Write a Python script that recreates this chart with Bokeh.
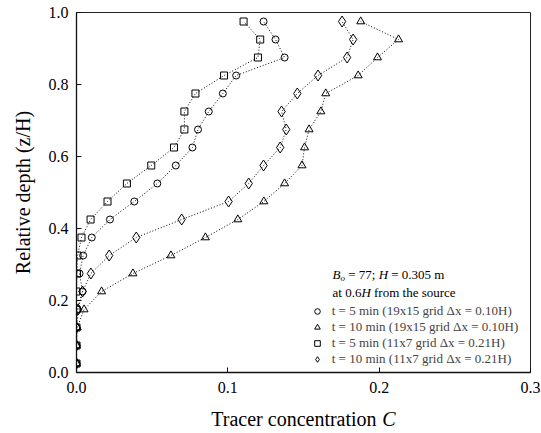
from bokeh.plotting import figure
from bokeh.layouts import column
from bokeh.models import Range1d, FixedTicker, PrintfTickFormatter, Legend, LegendItem, Label
from bokeh.embed import file_html
from bokeh.resources import INLINE

# ---------------- data ----------------
depth = [0.025, 0.075, 0.125, 0.175, 0.225, 0.275, 0.325, 0.375, 0.425, 0.475,
         0.525, 0.575, 0.625, 0.675, 0.725, 0.775, 0.825, 0.875, 0.925, 0.975]

c_t5_fine = [0.0, 0.0, 0.0, 0.0005, 0.004, 0.002, 0.0044, 0.0101, 0.0221, 0.0382,
             0.0534, 0.0656, 0.0766, 0.0803, 0.0874, 0.0967, 0.1055, 0.1375, 0.1315, 0.1236]

c_t10_fine = [0.0, 0.0, 0.0005, 0.005, 0.0166, 0.0373, 0.0624, 0.0852, 0.1066, 0.1238,
              0.1375, 0.1490, 0.1507, 0.1537, 0.1615, 0.1647, 0.1861, 0.1989, 0.2128, 0.1878]

c_t5_coarse = [0.0, 0.0, 0.0, 0.0, 0.0, 0.0003, 0.0007, 0.0033, 0.0093, 0.0205,
               0.0333, 0.0494, 0.0644, 0.0713, 0.0713, 0.0786, 0.0975, 0.1199, 0.1214, 0.1104]

c_t10_coarse = [0.0, 0.0, 0.0, 0.001, 0.004, 0.0095, 0.0216, 0.0395, 0.0695, 0.1005,
                0.1138, 0.1236, 0.1346, 0.1386, 0.1355, 0.1459, 0.1596, 0.1788, 0.1828, 0.1755]

series_labels = ["t = 5 min (19x15 grid \u0394x = 0.10H)",
                 "t = 10 min (19x15 grid \u0394x = 0.10H)",
                 "t = 5 min (11x7 grid \u0394x = 0.21H)",
                 "t = 10 min (11x7 grid \u0394x = 0.21H)"]

x_ticks = [0.0, 0.1, 0.2, 0.3]
y_ticks = [0.0, 0.2, 0.4, 0.6, 0.8, 1.0]

x_title = "Tracer concentration "
x_title_var = "C"
y_title = "Relative depth (z/H)"

FONT = "Liberation Serif"
LEFT, RIGHT = 76, 11

# ---------------- main plot ----------------
p = figure(width=541, height=402, output_backend="svg", toolbar_location=None,
           x_range=Range1d(0, 0.3), y_range=Range1d(0, 1),
           min_border_left=LEFT, min_border_right=RIGHT, min_border_top=12, min_border_bottom=30)

p.grid.visible = False
p.outline_line_color = "#222222"
p.outline_line_width = 1
p.background_fill_color = "white"
p.border_fill_color = "white"

xax = p.xaxis[0]
yax = p.yaxis[0]
xax.ticker = FixedTicker(ticks=x_ticks)
yax.ticker = FixedTicker(ticks=y_ticks)
xax.formatter = PrintfTickFormatter(format="%.1f")
yax.formatter = PrintfTickFormatter(format="%.1f")
for ax in (xax, yax):
    ax.major_tick_in = 5
    ax.major_tick_out = 0
    ax.minor_tick_in = 0
    ax.minor_tick_out = 0
    ax.axis_line_color = "#111111"
    ax.axis_line_width = 1.3
    ax.major_tick_line_color = "#111111"
    ax.major_label_text_font = FONT
    ax.major_label_text_font_size = "16px"
    ax.major_label_text_font_style = "normal"
    ax.major_label_text_color = "black"
xax.major_label_standoff = 9
yax.major_label_standoff = 8

yax.axis_label = y_title
yax.axis_label_text_font = FONT
yax.axis_label_text_font_size = "20px"
yax.axis_label_text_font_style = "normal"
yax.axis_label_text_color = "black"
yax.axis_label_standoff = 12

specs = [
    (c_t5_fine, "circle", 7),
    (c_t10_fine, "triangle", 8),
    (c_t5_coarse, "square", 7),
    (c_t10_coarse, "diamond", 11),
]
items = []
for (vals, marker, size), lab in zip(specs, series_labels):
    p.line(vals, depth, line_color="black", line_width=1, line_dash="1 2")
    r = p.scatter(vals, depth, marker=marker, size=size, line_color="black",
                  line_width=1, fill_color=None)
    items.append(LegendItem(label=lab, renderers=[r]))

legend = Legend(items=items, location=(233.7, 5.3), padding=0, spacing=0, margin=0,
                glyph_width=14, glyph_height=16, label_height=16, label_standoff=8,
                label_text_font=FONT, label_text_font_size="13px",
                border_line_color=None, background_fill_alpha=0)
p.add_layout(legend)

# --- rich text helper (widths in em, Times metrics); left-aligned pieces ---
W = {'T': .611, 'r': .333, 'a': .444, 'c': .444, 'e': .444, ' ': .25, 'o': .5, 'n': .5,
     't': .278, 'i': .278, 'R': .667, 'l': .278, 'v': .5, 'd': .5, 'p': .5, 'h': .5,
     '(': .333, ')': .333, '=': .564, '7': .5, ';': .278, '0': .5, '.': .25, '3': .5,
     '5': .5, 'm': .778, '6': .5, 'f': .333, 's': .389, 'u': .5, 'B': .611, 'H': .722,
     'z': .389, '/': .278, 'C': .667}


def width(s, fs):
    return sum(W.get(ch, .5) for ch in s) * fs


def rich(fig, pieces, x, y, units="screen"):
    pos = 0.0
    for text, fs, style, dy in pieces:
        lead = len(text) - len(text.lstrip(" "))
        pos += lead * W[' '] * fs
        body = text.strip(" ")
        fig.add_layout(Label(x=x + pos, y=y + dy, x_units=units, y_units=units,
                             text=body, text_font=FONT, text_font_size=f"{fs}px",
                             text_font_style=style, text_baseline="middle",
                             text_align="left", text_color="black"))
        pos += width(body, fs)
        trail = len(text) - len(text.rstrip(" "))
        pos += trail * W[' '] * fs


def total(pieces):
    return sum(width(t, f) for t, f, _, _ in pieces)


# legend header
rich(p, [("B", 13, "italic", 0), ("o", 9, "italic", -3), (" = 77; ", 13, "normal", 0),
         ("H", 13, "italic", 0), (" = 0.305 m", 13, "normal", 0)], 256, 98)
rich(p, [("at 0.6", 13, "normal", 0), ("H", 13, "italic", 0),
         (" from the source", 13, "normal", 0)], 256, 80)

# ---------------- x-title strip (frame aligned with main frame; data units = page px) ----
xtitle = figure(width=541, height=31, output_backend="svg", toolbar_location=None,
                x_range=Range1d(LEFT, 541 - RIGHT), y_range=Range1d(0, 31),
                x_axis_location=None, y_axis_location=None,
                min_border_left=LEFT, min_border_right=RIGHT,
                min_border_top=0, min_border_bottom=0)
xtitle.grid.visible = False
xtitle.outline_line_color = None
xtitle.background_fill_color = "white"
xtitle.border_fill_color = "white"
xt = [(x_title, 20, "normal", 0), (x_title_var, 20, "italic", 0)]
rich(xtitle, xt, 303 - total(xt) / 2, 15, units="data")

layout = column(p, xtitle, spacing=0)

open("out.html", "w").write(file_html(layout, INLINE))
